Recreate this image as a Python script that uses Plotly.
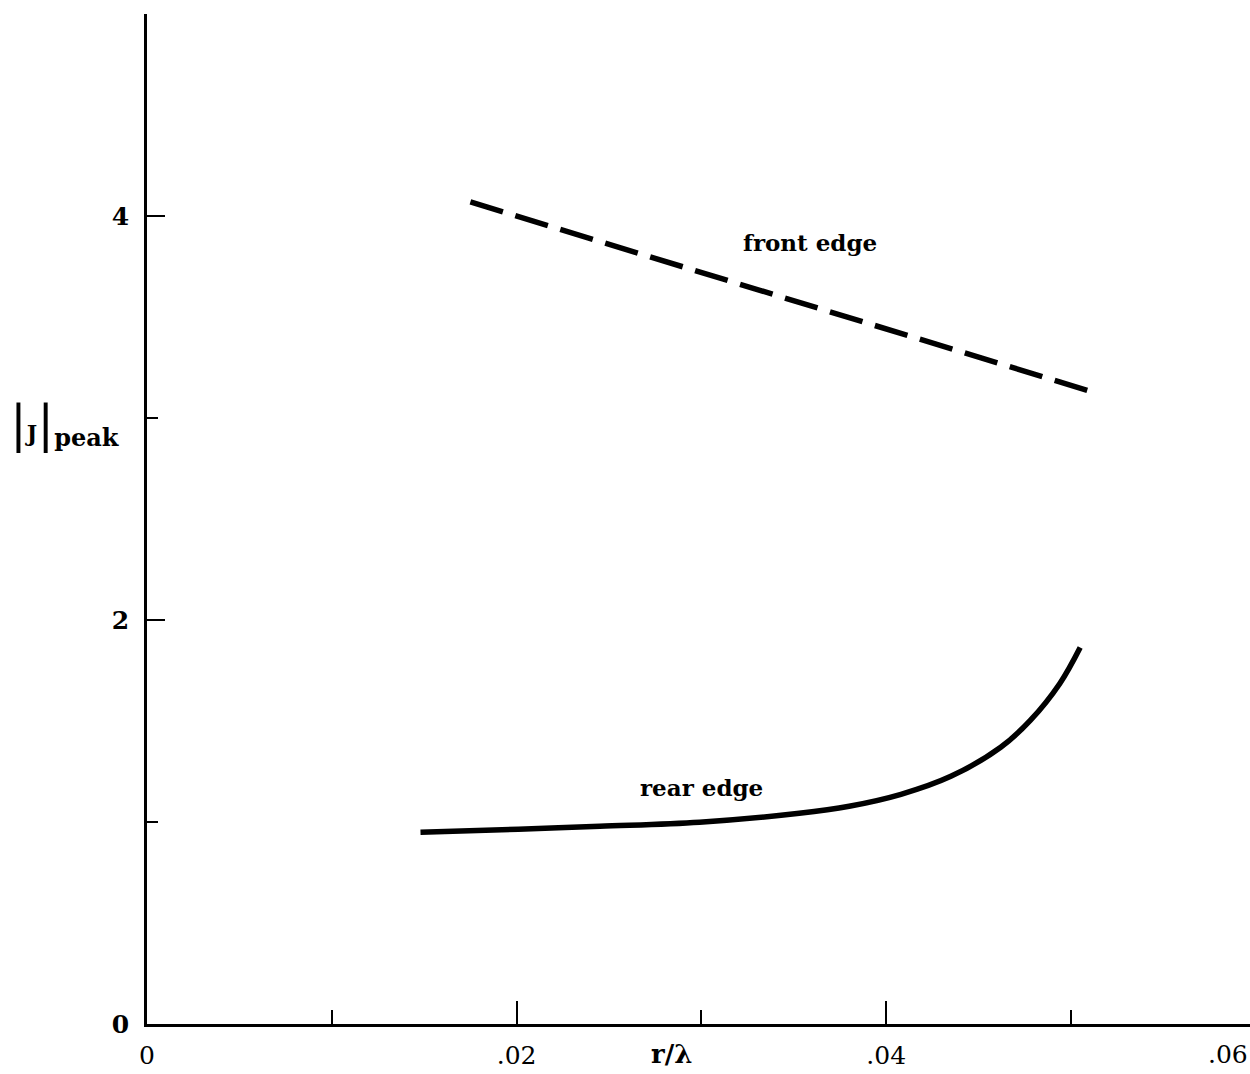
import plotly.graph_objects as go

# Data
front_x = [0.0175, 0.0513]
front_y = [4.07, 3.125]

rear_x = [0.0148, 0.0201, 0.0245, 0.0299, 0.0353, 0.0380, 0.0408, 0.0435, 0.0462, 0.0478, 0.0494, 0.0505]
rear_y = [0.949, 0.964, 0.979, 0.999, 1.043, 1.078, 1.137, 1.226, 1.370, 1.503, 1.686, 1.864]

x_tickvals = [0, 0.02, 0.04]
x_ticktext = ["0", ".02", ".04"]
x_minor = [0.01, 0.03, 0.05]
y_tickvals = [0, 2, 4]
y_ticktext = ["0", "2", "4"]
y_minor = [1, 3, 5]

FONT = "DejaVu Serif"

fig = go.Figure()
fig.add_trace(go.Scatter(x=front_x, y=front_y, mode="lines",
                         line=dict(color="black", width=5.5, dash="34px,13px"),
                         showlegend=False))
fig.add_trace(go.Scatter(x=rear_x, y=rear_y, mode="lines",
                         line=dict(color="black", width=5.5, shape="spline", smoothing=1.0),
                         showlegend=False))

fig.update_layout(
    width=1250, height=1074,
    margin=dict(l=147, r=0, t=14, b=50),
    paper_bgcolor="white", plot_bgcolor="white",
    font=dict(family=FONT, size=22, color="black"),
    xaxis=dict(range=[0, 0.05969], showline=True, linecolor="black", linewidth=2.5,
               showgrid=False, zeroline=False, ticks="inside", ticklen=23, tickwidth=2,
               tickcolor="black", tickmode="array", tickvals=x_tickvals, ticktext=x_ticktext,
               tickfont=dict(family=FONT, size=25), ticklabelstandoff=7,
               minor=dict(tickmode="array", tickvals=x_minor, ticks="inside", ticklen=14,
                          tickwidth=2, tickcolor="black", showgrid=False)),
    yaxis=dict(range=[0, 5], showline=True, linecolor="black", linewidth=2.5,
               showgrid=False, zeroline=False, ticks="inside", ticklen=18, tickwidth=2,
               tickcolor="black", tickmode="array", tickvals=y_tickvals, ticktext=y_ticktext,
               tickfont=dict(family=FONT, size=25, weight="bold"), ticklabelstandoff=10,
               minor=dict(tickmode="array", tickvals=y_minor, ticks="inside", ticklen=11,
                          tickwidth=2, tickcolor="black", showgrid=False)),
)

annotations = [
    dict(text="<b>front edge</b>", x=0.0359, y=3.87, xref="x", yref="y", showarrow=False,
         font=dict(family=FONT, size=23)),
    dict(text="<b>rear edge</b>", x=0.0300, y=1.17, xref="x", yref="y", showarrow=False,
         font=dict(family=FONT, size=23)),
    dict(text="<b>r/λ</b>", x=(671 - 147) / 1103, y=-0.03, xref="paper", yref="paper",
         yanchor="middle", showarrow=False, font=dict(family=FONT, size=26)),
    dict(text=".06", x=1.0, y=-0.03, xref="paper", yref="paper", xanchor="right",
         yanchor="middle", showarrow=False, font=dict(family=FONT, size=25)),
    dict(text="<span style='font-size:50px'>|</span><b>J</b><span style='font-size:50px'>|</span>"
              "<sub><span style='font-size:24px'><b>peak</b></span></sub>",
         x=(8 - 147) / 1103, y=(1024 - 424) / 1010, xref="paper", yref="paper",
         xanchor="left", yanchor="middle", showarrow=False, font=dict(family=FONT, size=22)),
]
fig.update_layout(annotations=annotations)

fig.write_html("out.html")
